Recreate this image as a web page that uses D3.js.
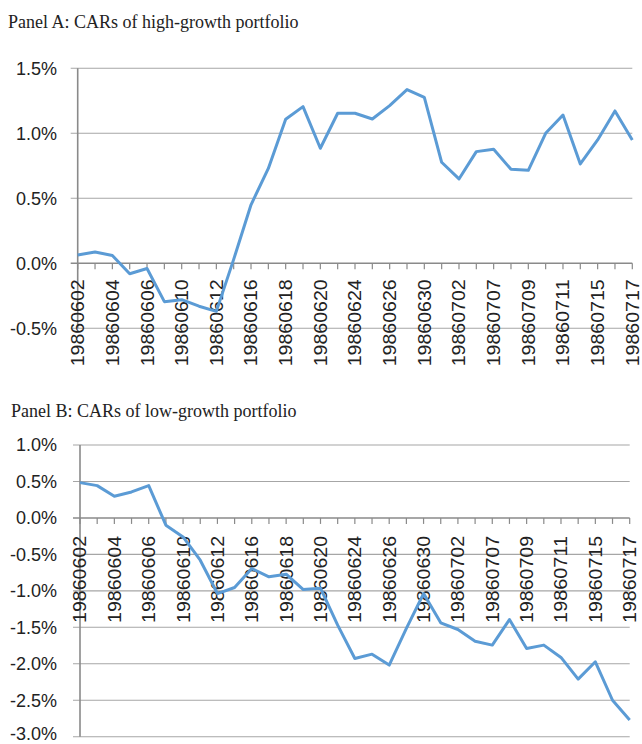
<!DOCTYPE html>
<html>
<head>
<meta charset="utf-8">
<script src="https://cdn.jsdelivr.net/npm/d3@7"></script>
<style>
  html, body { margin: 0; padding: 0; background: #fff; }
  svg { display: block; }
</style>
</head>
<body>
<svg id="chart" width="642" height="744"></svg>
<script>
const dates = ["19860602","19860603","19860604","19860605","19860606","19860609","19860610","19860611","19860612","19860613",
  "19860616","19860617","19860618","19860619","19860620","19860623","19860624","19860625","19860626","19860627",
  "19860630","19860701","19860702","19860703","19860707","19860708","19860709","19860710","19860711","19860714",
  "19860715","19860716","19860717"];

// CARs in percent
const highGrowth = [0.064,0.087,0.060,-0.080,-0.040,-0.295,-0.280,-0.330,-0.370,0.030,
  0.450,0.730,1.108,1.205,0.885,1.154,1.154,1.110,1.213,1.336,
  1.277,0.777,0.649,0.859,0.877,0.723,0.715,1.000,1.141,0.764,
  0.949,1.172,0.949];

const lowGrowth = [0.484,0.443,0.297,0.356,0.443,-0.100,-0.260,-0.580,-1.037,-0.954,
  -0.694,-0.808,-0.772,-0.982,-0.963,-1.470,-1.927,-1.868,-2.018,-1.516,
  -1.037,-1.438,-1.530,-1.690,-1.744,-1.393,-1.790,-1.744,-1.913,-2.210,
  -1.973,-2.500,-2.770];

const ticksA = [1.5,1.0,0.5,0.0,-0.5];
const ticksB = [1.0,0.5,0.0,-0.5,-1.0,-1.5,-2.0,-2.5,-3.0];

const titleA = "Panel A: CARs of high-growth portfolio";
const titleB = "Panel B: CARs of low-growth portfolio";

const svg = d3.select("#chart");

function panel(cfg) {
  const g = svg.append("g");
  const x = d3.scalePoint().domain(dates).range([cfg.x0, cfg.x1]);
  const y = d3.scaleLinear().domain([cfg.ymin, cfg.ymax]).range([cfg.yb, cfg.yt]);

  // title
  g.append("text")
    .attr("x", cfg.tx).attr("y", cfg.ty)
    .attr("font-family", "Liberation Serif, Times New Roman, serif")
    .attr("font-size", 18)
    .attr("fill", "#222")
    .text(cfg.title);

  // gridlines
  g.selectAll(".grid").data(cfg.ticks).join("line")
    .attr("x1", cfg.x0 - 7).attr("x2", cfg.x1)
    .attr("y1", d => y(d)).attr("y2", d => y(d))
    .attr("stroke", d => d === 0 ? "#8a8a8a" : "#a6a6a6")
    .attr("stroke-width", d => d === 0 ? 1.6 : 1.1);

  // y labels
  g.selectAll(".yl").data(cfg.ticks).join("text")
    .attr("x", 57).attr("y", d => y(d))
    .attr("dy", d => (d === cfg.ymin && cfg.yb > 730) ? "0.2em" : "0.36em")
    .attr("text-anchor", "end")
    .attr("font-family", "Liberation Sans, Arial, sans-serif")
    .attr("font-size", 18)
    .attr("fill", "#222")
    .text(d => d.toFixed(1) + "%");

  // y axis line
  g.append("line")
    .attr("x1", cfg.x0).attr("x2", cfg.x0)
    .attr("y1", y(cfg.ymax)).attr("y2", y(cfg.ymin))
    .attr("stroke", "#8a8a8a").attr("stroke-width", 1.6);

  // x tick marks
  const y0 = y(0);
  g.selectAll(".xt").data(dates).join("line")
    .attr("x1", d => x(d)).attr("x2", d => x(d))
    .attr("y1", y0).attr("y2", y0 + 6)
    .attr("stroke", "#8a8a8a").attr("stroke-width", 1.2);

  // x labels
  g.selectAll(".xl").data(dates.filter((d, i) => i % 2 === 0)).join("text")
    .attr("transform", d => `translate(${x(d)},${y0 + cfg.lg}) rotate(-90)`)
    .attr("text-anchor", "end")
    .attr("dy", "0.36em")
    .attr("font-family", "Liberation Sans, Arial, sans-serif")
    .attr("font-size", 18)
    .attr("textLength", 87)
    .attr("lengthAdjust", "spacingAndGlyphs")
    .attr("fill", "#222")
    .text(d => d);

  // line
  const line = d3.line().x((d, i) => x(dates[i])).y(d => y(d));
  g.append("path")
    .datum(cfg.values)
    .attr("d", line)
    .attr("fill", "none")
    .attr("stroke", "#5B9BD5")
    .attr("stroke-width", 3)
    .attr("stroke-linejoin", "round");
}

panel({ title: titleA, tx: 8, ty: 27.5, values: highGrowth, ticks: ticksA,
  ymin: -0.5, ymax: 1.5, yt: 68.3, yb: 328.3, x0: 77.7, x1: 632.3, lg: 16 });

panel({ title: titleB, tx: 11, ty: 416.5, values: lowGrowth, ticks: ticksB,
  ymin: -3.0, ymax: 1.0, yt: 445, yb: 736.7, x0: 80, x1: 629.7, lg: 18 });
</script>
</body>
</html>
